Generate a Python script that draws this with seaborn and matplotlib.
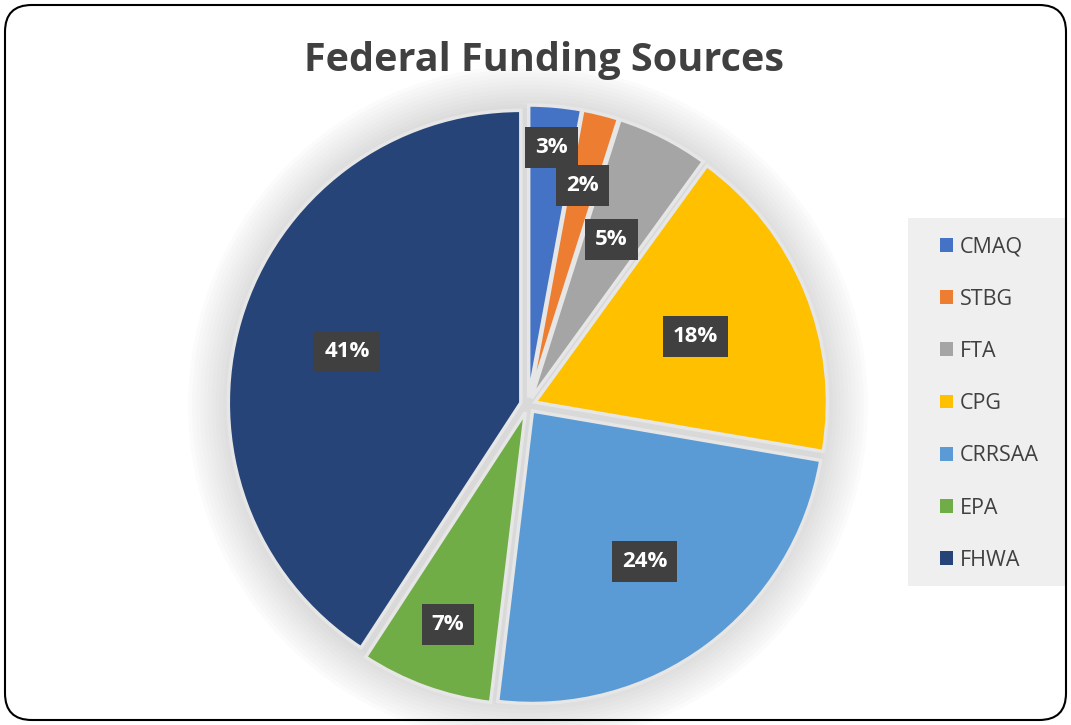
import matplotlib
matplotlib.use("Agg")
import matplotlib.pyplot as plt
import seaborn as sns
import numpy as np
from matplotlib.patches import FancyBboxPatch, Circle, Rectangle

# ---- data ----
categories = ["CMAQ", "STBG", "FTA", "CPG", "CRRSAA", "EPA", "FHWA"]
values = [2.9, 2.0, 5.1, 17.7, 24.2, 7.3, 40.8]
hex_colors = ["#4472C4", "#ED7D31", "#A5A5A5", "#FFC000", "#5B9BD5", "#70AD47", "#264478"]
title = "Federal Funding Sources"

sns.set_theme(style="white")
plt.rcParams["font.family"] = ["Open Sans", "DejaVu Sans"]
palette = sns.color_palette(hex_colors)

W, H = 1071, 725
fig = plt.figure(figsize=(W / 100, H / 100), dpi=100)
fig.patch.set_facecolor("white")

# rounded outer border
border = FancyBboxPatch((5 / W, 5 / H), (W - 10) / W, (H - 10) / H,
                        boxstyle="round,pad=0,rounding_size=0.025",
                        transform=fig.transFigure, facecolor="none",
                        edgecolor="black", linewidth=1.5, zorder=10,
                        mutation_aspect=W / H)
fig.patches.append(border)

# legend background panel
fig.patches.append(Rectangle((908 / W, 1 - 586 / H), 159 / W, 368 / H,
                             transform=fig.transFigure, facecolor="#efefef",
                             edgecolor="none", zorder=0))

cx, cy, R = 528, 405, 300
ax = fig.add_axes([(cx - R) / W, (H - cy - R) / H, 2 * R / W, 2 * R / H])

wedges, texts, autotexts = ax.pie(
    values, colors=palette, startangle=90, counterclock=False,
    explode=[0.025] * len(values), radius=0.975,
    autopct=lambda p: f"{p:.0f}%", pctdistance=0.64,
    wedgeprops=dict(edgecolor="#e6e6e6", linewidth=2.5),
    textprops=dict(color="white", fontsize=16, fontweight="bold"),
)

# soft glow behind the pie
for i in range(12):
    ax.add_patch(Circle((0, 0), 0.99 + 0.013 * i, facecolor="#9a9a9a",
                        alpha=0.03, edgecolor="none", zorder=0,
                        clip_on=False))

ax.set_xlim(-1, 1)
ax.set_ylim(-1, 1)
ax.set_aspect("equal")
ax.axis("off")

# push labels of tiny slices further out (Excel best-fit style)
label_scale = [1.33, 1.16, 0.95, 0.93, 1.0, 1.2, 0.97]
for t, s in zip(autotexts, label_scale):
    x, y = t.get_position()
    t.set_position((x * s, y * s))
    t.set_zorder(5)
    t.set_bbox(dict(boxstyle="square,pad=0.45", facecolor="#404040",
                    edgecolor="none"))

fig.text(544 / W, 1 - 60 / H, title, ha="center", va="center",
         fontsize=28.5, fontweight="bold", color="#404040")

leg = fig.legend(wedges, categories, loc="upper left",
                 bbox_to_anchor=(934 / W, 1 - 230 / H),
                 frameon=False, fontsize=15.5, labelspacing=1.45,
                 handlelength=0.6, handleheight=0.6, handletextpad=0.3,
                 borderpad=0.3, borderaxespad=0)
for txt in leg.get_texts():
    txt.set_color("#404040")
for h in leg.legend_handles:
    h.set_edgecolor("none")

fig.savefig("out.png", dpi=100, facecolor="white")
